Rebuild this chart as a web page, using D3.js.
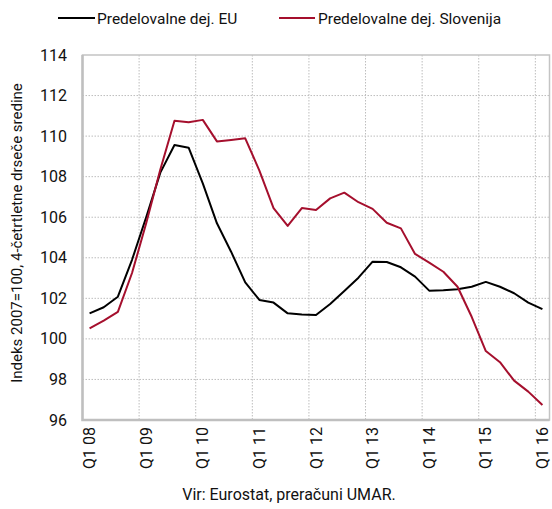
<!DOCTYPE html>
<html>
<head>
<meta charset="utf-8">
<script src="https://cdn.jsdelivr.net/npm/d3@7"></script>
<style>
  html, body { margin: 0; padding: 0; background: #fff; }
  svg text { font-family: Roboto, "Noto Sans", sans-serif; fill: #111; }
</style>
</head>
<body>
<svg id="chart" width="552" height="509"></svg>
<script>
// quarters Q1 08 .. Q1 16
const quarters = [
  "Q1 08","Q2 08","Q3 08","Q4 08",
  "Q1 09","Q2 09","Q3 09","Q4 09",
  "Q1 10","Q2 10","Q3 10","Q4 10",
  "Q1 11","Q2 11","Q3 11","Q4 11",
  "Q1 12","Q2 12","Q3 12","Q4 12",
  "Q1 13","Q2 13","Q3 13","Q4 13",
  "Q1 14","Q2 14","Q3 14","Q4 14",
  "Q1 15","Q2 15","Q3 15","Q4 15",
  "Q1 16"
];

const euValues = [
  101.26, 101.56, 102.08, 103.90, 106.00, 108.20, 109.56, 109.43,
  107.67, 105.70, 104.30, 102.79, 101.92, 101.79, 101.26, 101.20,
  101.18, 101.72, 102.36, 103.02, 103.81, 103.79, 103.53, 103.07,
  102.38, 102.40, 102.45, 102.57, 102.81, 102.57, 102.25, 101.79,
  101.47
];

const siValues = [
  100.52, 100.90, 101.33, 103.25, 105.70, 108.35, 110.76, 110.68,
  110.80, 109.74, 109.81, 109.89, 108.30, 106.45, 105.57, 106.45,
  106.36, 106.93, 107.21, 106.74, 106.41, 105.73, 105.45, 104.19,
  103.76, 103.31, 102.57, 101.09, 99.40, 98.85, 97.94, 97.40,
  96.74
];

const yTicks = [96, 98, 100, 102, 104, 106, 108, 110, 112, 114];

const seriesNames  = ["Predelovalne dej. EU", "Predelovalne dej. Slovenija"];
const seriesColors = ["#000000", "#a50f2d"];
const yTitle  = "Indeks 2007=100, 4-četrtletne drseče sredine";
const source  = "Vir: Eurostat, preračuni UMAR.";

// ------------------------------------------------------------
const plot = { left: 82.5, right: 549.5, top: 55, bottom: 420 };

const svg = d3.select("#chart");

const x = d3.scaleBand()
  .domain(quarters)
  .range([plot.left, plot.right])
  .padding(0);
const cx = q => x(q) + x.bandwidth() / 2;

const y = d3.scaleLinear()
  .domain([96, 114])
  .range([plot.bottom, plot.top]);

// grid
const grid = svg.append("g");
grid.selectAll("line.h")
  .data(yTicks.slice(1, -1))
  .enter().append("line")
  .attr("x1", plot.left).attr("x2", plot.right)
  .attr("y1", d => y(d)).attr("y2", d => y(d))
  .attr("stroke", "#bdbdbd").attr("stroke-width", 1)
  .attr("stroke-dasharray", "1.5,1.5");

const yearStarts = quarters.filter((q, i) => i % 4 === 0);
grid.selectAll("line.v")
  .data(yearStarts.slice(1))
  .enter().append("line")
  .attr("x1", d => x(d)).attr("x2", d => x(d))
  .attr("y1", plot.top).attr("y2", plot.bottom)
  .attr("stroke", "#bdbdbd").attr("stroke-width", 1)
  .attr("stroke-dasharray", "1.5,1.5");

// frame
svg.append("rect")
  .attr("x", plot.left).attr("y", plot.top)
  .attr("width", plot.right - plot.left)
  .attr("height", plot.bottom - plot.top)
  .attr("fill", "none")
  .attr("stroke", "#c4c4c4").attr("stroke-width", 1.5);
svg.append("path")
  .attr("d", `M${plot.left},${plot.top}V${plot.bottom}H${plot.right}`)
  .attr("fill", "none")
  .attr("stroke", "#bfbfbf").attr("stroke-width", 2.5);

// y tick labels
svg.append("g").selectAll("text")
  .data(yTicks)
  .enter().append("text")
  .attr("x", 67)
  .attr("y", d => y(d))
  .attr("dy", "0.35em")
  .attr("text-anchor", "end")
  .style("font-size", "16px")
  .text(d => d);

// x tick labels
svg.append("g").selectAll("text")
  .data(yearStarts)
  .enter().append("text")
  .attr("transform", d => `translate(${cx(d) + 5.5},427) rotate(-90)`)
  .attr("text-anchor", "end")
  .style("font-size", "16px")
  .text(d => d);

// lines
const line = d3.line()
  .x((d, i) => cx(quarters[i]))
  .y(d => y(d));

[euValues, siValues].forEach((vals, k) => {
  svg.append("path")
    .datum(vals)
    .attr("fill", "none")
    .attr("stroke", seriesColors[k])
    .attr("stroke-width", 2)
    .attr("stroke-linejoin", "round")
    .attr("d", line);
});

// y title
svg.append("text")
  .attr("transform", "translate(22,233) rotate(-90)")
  .attr("text-anchor", "middle")
  .style("font-size", "15px")
  .text(yTitle);

// legend
const legendPos = [{ x1: 58, x2: 95, tx: 97 }, { x1: 279, x2: 315, tx: 318 }];
legendPos.forEach((p, k) => {
  svg.append("line")
    .attr("x1", p.x1).attr("x2", p.x2)
    .attr("y1", 18).attr("y2", 18)
    .attr("stroke", seriesColors[k]).attr("stroke-width", 2);
  svg.append("text")
    .attr("x", p.tx).attr("y", 23.5)
    .style("font-size", "15.5px")
    .text(seriesNames[k]);
});

// source
svg.append("text")
  .attr("x", 289).attr("y", 500)
  .attr("text-anchor", "middle")
  .style("font-size", "16px")
  .text(source);
</script>
</body>
</html>
